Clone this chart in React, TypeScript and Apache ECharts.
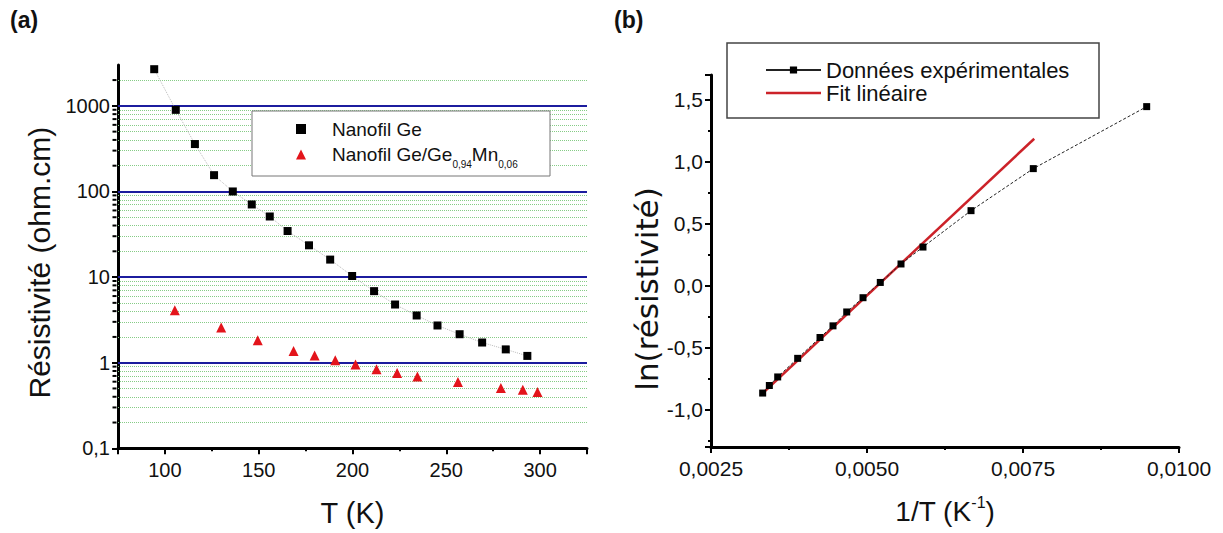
import React, { useEffect, useRef } from 'react';
import * as echarts from 'echarts';

const FONT = '"Liberation Sans", Arial, sans-serif';
const WIDE_FONT = '"DejaVu Sans", "Liberation Sans", sans-serif';

// ---- Panel (a): resistivity vs T (log scale) ----
const geName = 'Nanofil Ge';
const geMnName = 'Nanofil Ge/Ge0,94Mn0,06';
const geT = [94.3, 105.8, 116, 126.2, 136.2, 146.3, 155.9, 165.4, 176.8, 188.1, 199.8, 211.5, 222.7, 234.2, 245.3, 257.1, 269.1, 281.7, 293.2];
const geRho = [2680, 898, 358, 155, 100, 70.5, 51, 34.5, 23.5, 16.0, 10.3, 6.85, 4.78, 3.56, 2.72, 2.15, 1.72, 1.43, 1.2];
const geMnT = [105.3, 130, 149.5, 168.6, 179.8, 190.8, 201.6, 212.8, 223.8, 234.6, 256.2, 279.1, 290.8, 298.6];
const geMnRho = [4.11, 2.58, 1.83, 1.37, 1.21, 1.07, 0.95, 0.84, 0.76, 0.69, 0.594, 0.506, 0.483, 0.454];
const logMajorLines = [1, 10, 100, 1000];
const logMinorTicks = [
  0.2, 0.3, 0.4, 0.5, 0.6, 0.7, 0.8, 0.9,
  2, 3, 4, 5, 6, 7, 8, 9,
  20, 30, 40, 50, 60, 70, 80, 90,
  200, 300, 400, 500, 600, 700, 800, 900,
  2000,
];

// ---- Panel (b): ln(resistivity) vs 1/T ----
const expName = 'Données expérimentales';
const fitName = 'Fit linéaire';
const invT = [0.003328, 0.003435, 0.003569, 0.003889, 0.004247, 0.004455, 0.004675, 0.004936, 0.005213, 0.005545, 0.005897, 0.006667, 0.007665, 0.009482];
const lnRho = [-0.865, -0.804, -0.735, -0.585, -0.417, -0.323, -0.211, -0.096, 0.027, 0.176, 0.3125, 0.606, 0.945, 1.445];
const fitX = [0.00331, 0.00768];
const fitY = [-0.875, 1.186];

const comma = (s: string) => s.replace('.', ',');

export default function App() {
  const ref = useRef<HTMLDivElement>(null);
  useEffect(() => {
    if (!ref.current) return;
    const chart = echarts.init(ref.current, undefined, { renderer: 'svg' });
    const axisLine = { show: true, onZero: false, lineStyle: { color: '#000', width: 3 } };
    const axisTick = { show: true, inside: false, length: 6, lineStyle: { color: '#000', width: 2 } };
    const minorTick = { show: true, splitNumber: 2, length: 3, lineStyle: { color: '#000', width: 2 } };

    const option: any = {
      animation: false,
      backgroundColor: '#fff',
      textStyle: { fontFamily: FONT },
      grid: [
        { left: 118, top: 65, width: 469, height: 383.3 },
        { left: 711, top: 75, width: 468, height: 374 },
      ],
      xAxis: [
        {
          type: 'value', gridIndex: 0, min: 75, max: 325, splitNumber: 5,
          axisLine, axisTick, minorTick, splitLine: { show: false },
          axisLabel: { fontSize: 20, color: '#111', margin: 12, showMinLabel: false, showMaxLabel: false, fontFamily: FONT },
          name: 'T (K)', nameLocation: 'middle', nameGap: 50,
          nameTextStyle: { fontSize: 29, color: '#111', fontFamily: FONT },
        },
        {
          type: 'value', gridIndex: 1, min: 0.0025, max: 0.01, interval: 0.0025,
          axisLine, axisTick, minorTick, splitLine: { show: false },
          axisLabel: { fontSize: 21, color: '#111', margin: 11, fontFamily: FONT, formatter: (v: number) => comma(v.toFixed(4)) },
          name: '1/T (K{sup|-1})', nameLocation: 'middle', nameGap: 50,
          nameTextStyle: {
            fontSize: 28, color: '#111', fontFamily: FONT,
            rich: { sup: { fontSize: 16, lineHeight: 16, padding: [0, 0, 18, 0], color: '#111', fontFamily: FONT } },
          },
        },
      ],
      yAxis: [
        {
          type: 'log', logBase: 10, gridIndex: 0, min: 0.1, max: 3000,
          axisLine, axisTick, splitLine: { show: false },
          axisLabel: { fontSize: 20, color: '#111', margin: 8, showMinLabel: true, showMaxLabel: false, fontFamily: FONT, formatter: (v: number) => comma(String(v)) },
          name: 'Résistivité (ohm.cm)', nameLocation: 'middle', nameGap: 64,
          nameTextStyle: { fontSize: 30, color: '#111', fontFamily: FONT, padding: [0, 12, 0, 0] },
        },
        {
          type: 'value', gridIndex: 1, min: -1.3, max: 1.7, splitNumber: 6,
          axisLine, axisTick, minorTick, splitLine: { show: false },
          axisLabel: { fontSize: 21, color: '#111', margin: 8, showMinLabel: false, showMaxLabel: false, fontFamily: FONT, formatter: (v: number) => comma(v.toFixed(1)) },
          name: 'ln(résistivité)', nameLocation: 'middle', nameGap: 48,
          nameTextStyle: { fontSize: 31, color: '#111', fontFamily: WIDE_FONT, padding: [0, 56, 0, 0] },
        },
      ],
      legend: [
        {
          data: [{ name: geName }, { name: geMnName }],
          orient: 'vertical', left: 296, top: 119.5, padding: 0,
          itemWidth: 10, itemHeight: 10, itemGap: 1,
          textStyle: {
            fontSize: 19, color: '#111', fontFamily: FONT, padding: [0, 0, 0, 21],
            rich: {
              n: { fontSize: 19, lineHeight: 20, color: '#111', fontFamily: FONT },
              s: { fontSize: 10, lineHeight: 10, padding: [20, 0, 0, 0], color: '#111', fontFamily: FONT },
            },
          },
          formatter: (name: string) =>
            name === geMnName ? '{n|Nanofil Ge/Ge}{s|0,94}{n|Mn}{s|0,06}' : '{n|' + name + '}',
        },
        {
          data: [
            { name: expName, lineStyle: { type: 'solid' } },
            { name: fitName, icon: 'path://M0 0H55V2.5H0Z' },
          ],
          orient: 'vertical', left: 765, top: 59, padding: 0,
          itemWidth: 55, itemHeight: 9, itemGap: 1,
          textStyle: { fontSize: 22, lineHeight: 22, color: '#111', fontFamily: FONT },
        },
      ],
      graphic: [
        { type: 'rect', z: 3, shape: { x: 252, y: 111, width: 298, height: 65 }, style: { fill: '#fff', stroke: '#777', lineWidth: 1 } },
        { type: 'rect', z: 3, shape: { x: 727, y: 43, width: 372, height: 75 }, style: { fill: '#fff', stroke: '#444', lineWidth: 1.5 } },
        { type: 'text', z: 5, left: 10, top: 8, style: { text: '(a)', font: 'bold 23px ' + FONT, fill: '#111' } },
        { type: 'text', z: 5, left: 614, top: 8, style: { text: '(b)', font: 'bold 23px ' + FONT, fill: '#111' } },
      ],
      series: [
        {
          name: 'logGrid', type: 'scatter', xAxisIndex: 0, yAxisIndex: 0, silent: true, clip: false, z: 2,
          symbol: 'rect', symbolSize: [4, 2], symbolOffset: [-3.5, 0], itemStyle: { color: '#000', opacity: 1 },
          data: logMinorTicks.map((v) => [75, v]),
          markLine: {
            z: 1, silent: true, symbol: ['none', 'none'], label: { show: false }, animation: false,
            data: [
              ...logMinorTicks.map((v) => ({ yAxis: v, lineStyle: { color: '#86cc86', type: 'dotted', width: 1 } })),
              ...logMajorLines.map((v) => ({ yAxis: v, lineStyle: { color: '#1c1c9e', type: 'solid', width: 2 } })),
            ],
          },
        },
        {
          name: 'geTrend', type: 'line', xAxisIndex: 0, yAxisIndex: 0, silent: true, showSymbol: false, symbol: 'none', z: 2,
          lineStyle: { color: '#bbb', width: 1, type: 'dotted' },
          data: geT.map((t, i) => [t, geRho[i]]),
        },
        {
          name: geName, type: 'scatter', xAxisIndex: 0, yAxisIndex: 0, z: 5,
          symbol: 'rect', symbolSize: 8, itemStyle: { color: '#000', opacity: 1 },
          data: geT.map((t, i) => [t, geRho[i]]),
        },
        {
          name: geMnName, type: 'scatter', xAxisIndex: 0, yAxisIndex: 0, z: 5,
          symbol: 'triangle', symbolSize: 10, itemStyle: { color: '#e3141b', opacity: 1 },
          data: geMnT.map((t, i) => [t, geMnRho[i]]),
        },
        {
          name: fitName, type: 'line', xAxisIndex: 1, yAxisIndex: 1, showSymbol: false, symbol: 'none', z: 2,
          lineStyle: { color: '#cc2229', width: 2.5 }, itemStyle: { color: '#cc2229' },
          data: fitX.map((x, i) => [x, fitY[i]]),
        },
        {
          name: expName, type: 'line', xAxisIndex: 1, yAxisIndex: 1, z: 3,
          symbol: 'rect', symbolSize: 7, showAllSymbol: true,
          itemStyle: { color: '#000' }, lineStyle: { color: '#222', width: 1, type: [3, 2] },
          data: invT.map((x, i) => [x, lnRho[i]]),
        },
      ],
    };
    chart.setOption(option);
    return () => chart.dispose();
  }, []);
  return (
    <div
      ref={ref}
      style={{ position: 'fixed', left: 0, top: 0, width: 1223, height: 533, background: '#fff' }}
    />
  );
}
